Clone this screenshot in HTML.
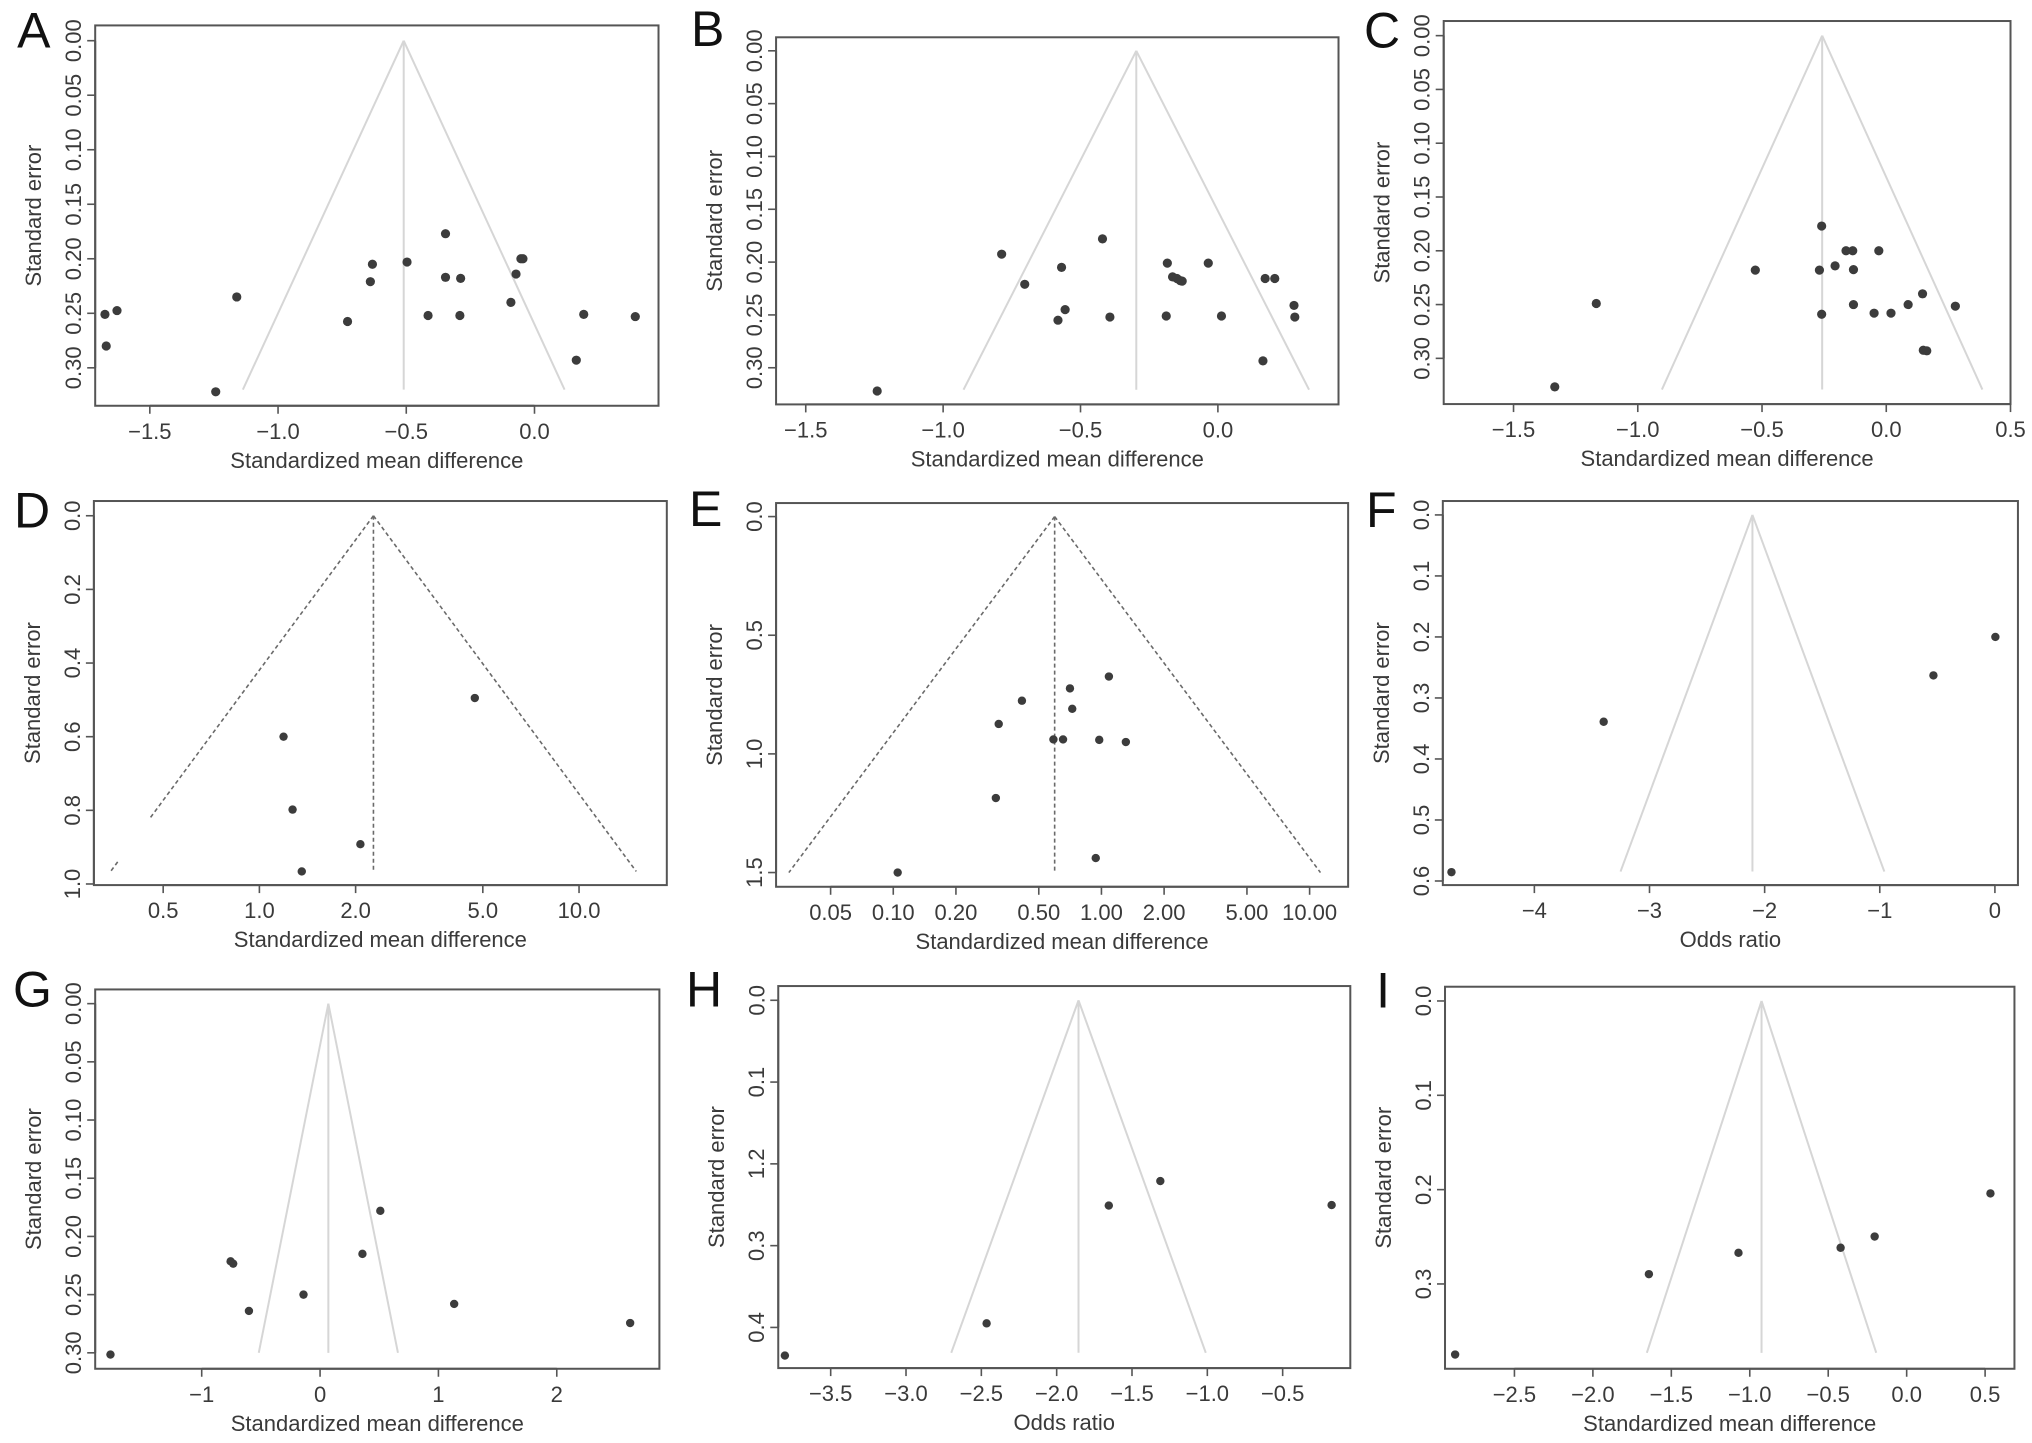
<!DOCTYPE html>
<html><head><meta charset="utf-8"><title>Funnel plots A–I</title>
<style>
html,body{margin:0;padding:0;background:#fff;}
svg{display:block;}
text{font-family:"Liberation Sans",Arial,sans-serif;fill:#3a3a3a;}
</style></head>
<body>
<svg id="fig" width="2032" height="1443" viewBox="0 0 2032 1443" xmlns="http://www.w3.org/2000/svg"></svg>
<script>
// ---------- data ----------
const aX=[-1.675,-1.628,-1.670,-1.161,-1.243,-0.729,-0.640,-0.632,-0.497,-0.415,-0.347,-0.347,-0.288,-0.291,-0.092,-0.072,-0.053,-0.045,0.192,0.393,0.163];
const aSE=[0.251,0.2475,0.280,0.235,0.322,0.2575,0.221,0.205,0.203,0.252,0.177,0.217,0.218,0.252,0.240,0.214,0.200,0.200,0.251,0.253,0.293];
const aCenter=-0.51, aSEmax=0.320;
const bX=[-1.240,-0.787,-0.703,-0.569,-0.420,-0.556,-0.582,-0.393,-0.184,-0.165,-0.149,-0.137,-0.130,-0.035,-0.188,0.013,0.172,0.207,0.277,0.280,0.164];
const bSE=[0.322,0.1925,0.221,0.205,0.178,0.245,0.255,0.252,0.201,0.214,0.2155,0.2175,0.218,0.201,0.251,0.251,0.2155,0.2155,0.241,0.252,0.2935];
const bCenter=-0.297, bSEmax=0.3208;
const cX=[-1.334,-1.167,-0.527,-0.260,-0.269,-0.260,-0.162,-0.135,-0.206,-0.132,-0.030,-0.132,-0.049,0.019,0.088,0.146,0.278,0.149,0.163];
const cSE=[0.3265,0.249,0.218,0.177,0.218,0.259,0.200,0.200,0.214,0.2175,0.200,0.250,0.258,0.258,0.250,0.240,0.2515,0.2925,0.293];
const cCenter=-0.258, cSEmax=0.329;
const dX=[4.72,1.19,1.27,2.07,1.357];
const dSE=[0.495,0.600,0.798,0.892,0.966];
const dCenter=2.274, dSEmax=0.966;
const eX=[0.105,0.311,0.321,0.415,0.588,0.654,0.706,0.724,1.086,0.976,1.31,0.939];
const eSE=[1.5,1.186,0.874,0.776,0.939,0.939,0.724,0.81,0.674,0.941,0.95,1.439];
const eCenter=0.596, eSEmax=1.5;
const fX=[-4.72,-3.398,-0.534,0.004];
const fSE=[0.5855,0.339,0.263,0.200];
const fCenter=-2.106, fSEmax=0.5845;
const gX=[-1.771,-0.756,-0.734,-0.601,-0.140,0.358,0.509,1.133,2.62];
const gSE=[0.3015,0.2214,0.2234,0.264,0.250,0.215,0.178,0.258,0.2744];
const gCenter=0.070, gSEmax=0.30;
const hX=[-3.804,-2.465,-1.654,-1.312,-0.175];
const hSE=[0.4344,0.395,0.251,0.221,0.2504];
const hCenter=-1.855, hSEmax=0.431;
const iX=[-2.878,-1.643,-1.072,-0.421,-0.204,0.534];
const iSE=[0.3748,0.2896,0.267,0.2616,0.2497,0.204];
const iCenter=-0.925, iSEmax=0.373;

// tick values and labels
const aXTicks=[-1.5,-1.0,-0.5,0.0], aXLabels=["\u22121.5","\u22121.0","\u22120.5","0.0"];
const bXTicks=[-1.5,-1.0,-0.5,0.0], bXLabels=["\u22121.5","\u22121.0","\u22120.5","0.0"];
const cXTicks=[-1.5,-1.0,-0.5,0.0,0.5], cXLabels=["\u22121.5","\u22121.0","\u22120.5","0.0","0.5"];
const dXTicks=[0.5,1.0,2.0,5.0,10.0], dXLabels=["0.5","1.0","2.0","5.0","10.0"];
const eXTicks=[0.05,0.1,0.2,0.5,1,2,5,10], eXLabels=["0.05","0.10","0.20","0.50","1.00","2.00","5.00","10.00"];
const fXTicks=[-4,-3,-2,-1,0], fXLabels=["\u22124","\u22123","\u22122","\u22121","0"];
const gXTicks=[-1,0,1,2], gXLabels=["\u22121","0","1","2"];
const hXTicks=[-3.5,-3.0,-2.5,-2.0,-1.5,-1.0,-0.5], hXLabels=["\u22123.5","\u22123.0","\u22122.5","\u22122.0","\u22121.5","\u22121.0","\u22120.5"];
const iXTicks=[-2.5,-2.0,-1.5,-1.0,-0.5,0.0,0.5], iXLabels=["\u22122.5","\u22122.0","\u22121.5","\u22121.0","\u22120.5","0.0","0.5"];
const seTicks005=[0,0.05,0.10,0.15,0.20,0.25,0.30], seLabels005=["0.00","0.05","0.10","0.15","0.20","0.25","0.30"];
const dYTicks=[0,0.2,0.4,0.6,0.8,1.0], dYLabels=["0.0","0.2","0.4","0.6","0.8","1.0"];
const eYTicks=[0,0.5,1.0,1.5], eYLabels=["0.0","0.5","1.0","1.5"];
const fYTicks=[0,0.1,0.2,0.3,0.4,0.5,0.6], fYLabels=["0.0","0.1","0.2","0.3","0.4","0.5","0.6"];
const hYTicks=[0,0.1,0.2,0.3,0.4], hYLabels=["0.0","0.1","1.2","0.3","0.4"];
const iYTicks=[0,0.1,0.2,0.3], iYLabels=["0.0","0.1","0.2","0.3"];

// ---------- layout ----------
const KX=2.29, KY=2.95, KL=2.3;
const panels=[
 {id:"a",L:"A",ox:0,oy:0,zb:[218,75,1508,1197],xd:[-1.713,0.4836],yd:[-0.014,0.3348],log:false,xs:aX,ses:aSE,c:aCenter,sm:aSEmax,xt:aXTicks,xl:aXLabels,yt:seTicks005,yl:seLabels005,title:"Standardized mean difference",dash:false,lx:17,ly:61},
 {id:"b",L:"B",ox:680,oy:0,zb:[220,110,1508,1193],xd:[-1.608,0.439],yd:[-0.0128,0.3347],log:false,xs:bX,ses:bSE,c:bCenter,sm:bSEmax,xt:bXTicks,xl:bXLabels,yt:seTicks005,yl:seLabels005,title:"Standardized mean difference",dash:false,lx:11,ly:59},
 {id:"c",L:"C",ox:1352,oy:0,zb:[210,62,1508,1192],xd:[-1.781,0.5],yd:[-0.0136,0.3425],log:false,xs:cX,ses:cSE,c:cCenter,sm:cSEmax,xt:cXTicks,xl:cXLabels,yt:seTicks005,yl:seLabels005,title:"Standardized mean difference",dash:false,lx:12,ly:61},
 {id:"d",L:"D",ox:0,oy:480,zb:[215,62,1527,1195],xd:[-0.5178,1.2746],yd:[-0.04,1.003],log:true,xs:dX,ses:dSE,c:dCenter,sm:dSEmax,xt:dXTicks,xl:dXLabels,yt:dYTicks,yl:dYLabels,title:"Standardized mean difference",dash:true,gap:[0.82,0.94],lx:14,ly:61},
 {id:"e",L:"E",ox:680,oy:480,zb:[220,68,1530,1200],xd:[-1.563,1.185],yd:[-0.057,1.56],log:true,xs:eX,ses:eSE,c:eCenter,sm:eSEmax,xt:eXTicks,xl:eXLabels,yt:eYTicks,yl:eYLabels,title:"Standardized mean difference",dash:true,lx:9,ly:59},
 {id:"f",L:"F",ox:1352,oy:480,zb:[208,62,1525,1195],xd:[-4.795,0.2],yd:[-0.0228,0.6067],log:false,xs:fX,ses:fSE,c:fCenter,sm:fSEmax,xt:fXTicks,xl:fXLabels,yt:fYTicks,yl:fYLabels,title:"Odds ratio",dash:false,lx:14,ly:60},
 {id:"g",L:"G",ox:0,oy:963,zb:[218,78,1510,1197],xd:[-1.90,2.867],yd:[-0.0122,0.3137],log:false,xs:gX,ses:gSE,c:gCenter,sm:gSEmax,xt:gXTicks,xl:gXLabels,yt:seTicks005,yl:seLabels005,title:"Standardized mean difference",dash:false,lx:13,ly:56},
 {id:"h",L:"H",ox:680,oy:963,zb:[225,68,1535,1195],xd:[-3.848,-0.051],yd:[-0.0174,0.4497],log:false,xs:hX,ses:hSE,c:hCenter,sm:hSEmax,xt:hXTicks,xl:hXLabels,yt:hYTicks,yl:hYLabels,title:"Odds ratio",dash:false,lx:6,ly:56},
 {id:"i",L:"I",ox:1352,oy:963,zb:[213,70,1517,1197],xd:[-2.9425,0.687],yd:[-0.0151,0.3899],log:false,xs:iX,ses:iSE,c:iCenter,sm:iSEmax,xt:iXTicks,xl:iXLabels,yt:iYTicks,yl:iYLabels,title:"Standardized mean difference",dash:false,lx:24,ly:57}
];

const NS="http://www.w3.org/2000/svg";
const svg=document.getElementById('fig');
function mk(tag,attrs,parent){const e=document.createElementNS(NS,tag);for(const k in attrs)e.setAttribute(k,attrs[k]);(parent||svg).appendChild(e);return e;}

panels.forEach(p=>{
  const L=p.ox+p.zb[0]/KX, T=p.oy+p.zb[1]/KY, R=p.ox+p.zb[2]/KX, B=p.oy+p.zb[3]/KY;
  const tx=v=>p.log?Math.log10(v):v;
  const sx=u=>L+(u-p.xd[0])/(p.xd[1]-p.xd[0])*(R-L);
  const X=v=>sx(tx(v));
  const Y=s=>T+(s-p.yd[0])/(p.yd[1]-p.yd[0])*(B-T);
  const g=mk('g',{});
  
  

  // panel letter
  const lt=mk('text',{x:p.ox+p.lx*KL/KX,y:p.oy+p.ly*KL/KY,'font-size':50,style:'fill:#111'},g);
  
  
  lt.textContent=p.L;

  // funnel
  const cu=tx(p.c);
  const half=s=>p.log?1.96*s/Math.LN10:1.96*s;
  const fstroke=p.dash?'#6a6a6a':'#d6d6d6';
  const fdash=p.dash?'4,3':'none';
  const fw=p.dash?1.6:2;
  const ax=sx(cu), ay=Y(0);
  const lb=[sx(cu-half(p.sm)),Y(p.sm)], rb=[sx(cu+half(p.sm)),Y(p.sm)];
  if(p.gap){
    const l1=mk('line',{x1:ax,y1:ay,x2:sx(cu-half(p.gap[0])),y2:Y(p.gap[0]),stroke:fstroke,'stroke-width':fw,'stroke-dasharray':fdash},g);
    
    
    const l2=mk('line',{x1:sx(cu-half(p.gap[1])),y1:Y(p.gap[1]),x2:lb[0],y2:lb[1],stroke:fstroke,'stroke-width':fw,'stroke-dasharray':fdash},g);
    
    
  } else {
    const l1=mk('line',{x1:ax,y1:ay,x2:lb[0],y2:lb[1],stroke:fstroke,'stroke-width':fw,'stroke-dasharray':fdash},g);
    
    
  }
  const l3=mk('line',{x1:ax,y1:ay,x2:rb[0],y2:rb[1],stroke:fstroke,'stroke-width':fw,'stroke-dasharray':fdash},g);
  
  
  const l4=mk('line',{x1:ax,y1:ay,x2:ax,y2:Y(p.sm),stroke:fstroke,'stroke-width':fw,'stroke-dasharray':fdash},g);
  
  

  // points
  const r=(p.id<'d')?4.6:4.2;
  p.xs.forEach((v,i)=>{
    const c=mk('circle',{cx:X(v),cy:Y(p.ses[i]),r:r,fill:'#3c3c3c'},g);
    
    
  });

  // box
  const bx=mk('rect',{x:L,y:T,width:R-L,height:B-T,fill:'none',stroke:'#555','stroke-width':2},g);
  
  

  // x axis
  const xa=mk('g',{},g);
  
  
  const xs0=X(p.xt[0]), xs1=X(p.xt[p.xt.length-1]);
  mk('line',{x1:xs0,y1:B,x2:xs1,y2:B,stroke:'#555','stroke-width':2},xa);
  p.xt.forEach((v,i)=>{
    const x=X(v);
    mk('line',{x1:x,y1:B,x2:x,y2:B+8,stroke:'#555','stroke-width':1.6},xa);
    const t=mk('text',{x:x,y:B+33,'font-size':22,'text-anchor':'middle'},xa);
    
    
    t.textContent=p.xl[i];
  });
  const xt=mk('text',{x:(L+R)/2,y:B+62,'font-size':22,'text-anchor':'middle'},g);
  
  
  xt.textContent=p.title;

  // y axis
  const ya=mk('g',{},g);
  
  
  mk('line',{x1:L,y1:Y(p.yt[0]),x2:L,y2:Y(p.yt[p.yt.length-1]),stroke:'#555','stroke-width':2},ya);
  p.yt.forEach((v,i)=>{
    const y=Y(v);
    mk('line',{x1:L,y1:y,x2:L-8,y2:y,stroke:'#555','stroke-width':1.6},ya);
    const lx=L-14;
    const t=mk('text',{x:lx,y:y,'font-size':22,'text-anchor':'middle',transform:'rotate(-90 '+lx+' '+y+')'},ya);
    
    
    t.textContent=p.yl[i];
  });
  const yx=L-54, yy=(T+B)/2;
  const yt=mk('text',{x:yx,y:yy,'font-size':22,'text-anchor':'middle',transform:'rotate(-90 '+yx+' '+yy+')'},g);
  
  
  yt.textContent='Standard error';
});
</script>
</body></html>
